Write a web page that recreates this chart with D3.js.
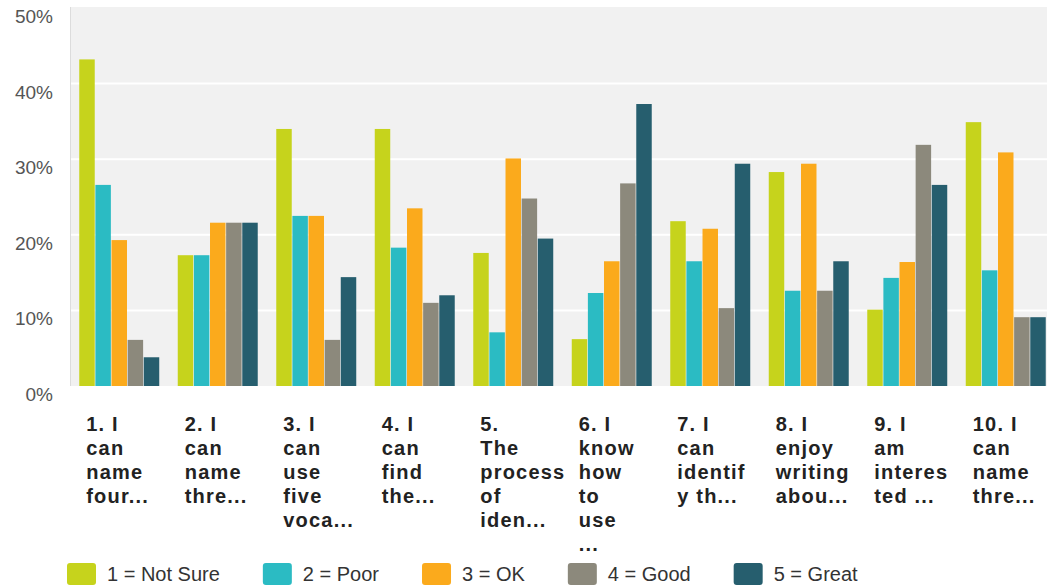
<!DOCTYPE html>
<html>
<head>
<meta charset="utf-8">
<script src="https://cdn.jsdelivr.net/npm/d3@7"></script>
<style>
  html, body { margin: 0; padding: 0; background: #ffffff; }
  svg { display: block; font-family: "Liberation Sans", Arial, sans-serif; }
</style>
</head>
<body>
<svg id="chart" width="1047" height="587"></svg>
<script>
// Survey questions (wrapped exactly as shown under each group)
const categories = [
  ["1. I", "can", "name", "four..."],
  ["2. I", "can", "name", "thre..."],
  ["3. I", "can", "use", "five", "voca..."],
  ["4. I", "can", "find", "the..."],
  ["5.", "The", "process", "of", "iden..."],
  ["6. I", "know", "how", "to", "use", "..."],
  ["7. I", "can", "identif", "y th..."],
  ["8. I", "enjoy", "writing", "abou..."],
  ["9. I", "am", "interes", "ted ..."],
  ["10. I", "can", "name", "thre..."]
];

const seriesNames = ["1 = Not Sure", "2 = Poor", "3 = OK", "4 = Good", "5 = Great"];
const seriesColors = ["#c6d31c", "#2bbbc3", "#fbaa1c", "#8c897c", "#265e6e"];

// Percentage of responses per rating, one array per rating level
const notSure = [43.2, 17.3, 34.0, 34.0, 17.6, 6.2, 21.8, 28.3, 10.1, 34.9];
const poor    = [26.6, 17.3, 22.5, 18.3, 7.1, 12.3, 16.5, 12.6, 14.3, 15.3];
const ok      = [19.3, 21.6, 22.5, 23.5, 30.1, 16.5, 20.8, 29.4, 16.4, 30.9];
const good    = [6.1, 21.6, 6.1, 11.0, 24.8, 26.8, 10.3, 12.6, 31.9, 9.1];
const great   = [3.8, 21.6, 14.4, 12.0, 19.5, 37.3, 29.4, 16.5, 26.6, 9.1];
const seriesValues = [notSure, poor, ok, good, great];

const yTicks = [0, 10, 20, 30, 40, 50];

const svg = d3.select("#chart");
const plot = { left: 70, right: 1047, top: 7, bottom: 386 };

const x = d3.scaleBand()
  .domain(d3.range(categories.length))
  .range([plot.left, 1055])
  .paddingInner(0.188)
  .paddingOuter(0.094);

const xSub = d3.scaleBand()
  .domain(d3.range(seriesNames.length))
  .range([0, x.bandwidth()])
  .paddingInner(0.04);

const y = d3.scaleLinear().domain([0, 50]).range([plot.bottom, 8]);

// Plot background
svg.append("rect")
  .attr("x", plot.left).attr("y", plot.top)
  .attr("width", plot.right - plot.left).attr("height", plot.bottom - plot.top)
  .attr("fill", "#f1f1f1");
svg.append("line")
  .attr("x1", plot.left + 0.5).attr("x2", plot.left + 0.5)
  .attr("y1", plot.top).attr("y2", plot.bottom)
  .attr("stroke", "#dcdcdc").attr("stroke-width", 1);

// Horizontal gridlines
svg.append("g")
  .selectAll("line")
  .data(yTicks.filter(t => t > 0 && t < 50))
  .join("line")
  .attr("x1", plot.left + 1).attr("x2", plot.right)
  .attr("y1", d => y(d)).attr("y2", d => y(d))
  .attr("stroke", "#ffffff").attr("stroke-width", 2);

// Y tick labels
svg.append("g")
  .selectAll("text")
  .data(yTicks)
  .join("text")
  .attr("x", 53)
  .attr("y", d => y(d) + 15)
  .attr("text-anchor", "end")
  .attr("font-size", 19)
  .attr("fill", "#555555")
  .text(d => d + "%");

// Bars
const groups = svg.append("g")
  .selectAll("g")
  .data(categories.map((c, i) => i))
  .join("g")
  .attr("transform", i => `translate(${x(i)},0)`);

groups.selectAll("rect")
  .data(i => seriesValues.map((vals, s) => ({ s, v: vals[i] })))
  .join("rect")
  .attr("x", d => xSub(d.s))
  .attr("width", xSub.bandwidth())
  .attr("y", d => y(d.v))
  .attr("height", d => y(0) - y(d.v))
  .attr("fill", d => seriesColors[d.s]);

// Category labels, one tspan per wrapped line
const labels = svg.append("g")
  .selectAll("text")
  .data(categories)
  .join("text")
  .attr("x", (d, i) => x(i) + 7)
  .attr("y", 431)
  .attr("font-size", 20)
  .attr("font-weight", "bold")
  .attr("letter-spacing", 1.2)
  .attr("fill", "#222222");

labels.selectAll("tspan")
  .data((d, i) => d.map(line => ({ line, i })))
  .join("tspan")
  .attr("x", d => x(d.i) + 7)
  .attr("dy", (d, j) => j === 0 ? 0 : 24)
  .text(d => d.line);

// Legend laid out left to right
const legend = svg.append("g");
let lx = 67;
seriesNames.forEach((name, s) => {
  legend.append("rect")
    .attr("x", lx).attr("y", 563)
    .attr("width", 29).attr("height", 22)
    .attr("rx", 3)
    .attr("fill", seriesColors[s]);
  const t = legend.append("text")
    .attr("x", lx + 40).attr("y", 581)
    .attr("font-size", 20)
    .attr("fill", "#333333")
    .text(name);
  lx += 40 + t.node().getComputedTextLength() + 43;
});
</script>
</body>
</html>
